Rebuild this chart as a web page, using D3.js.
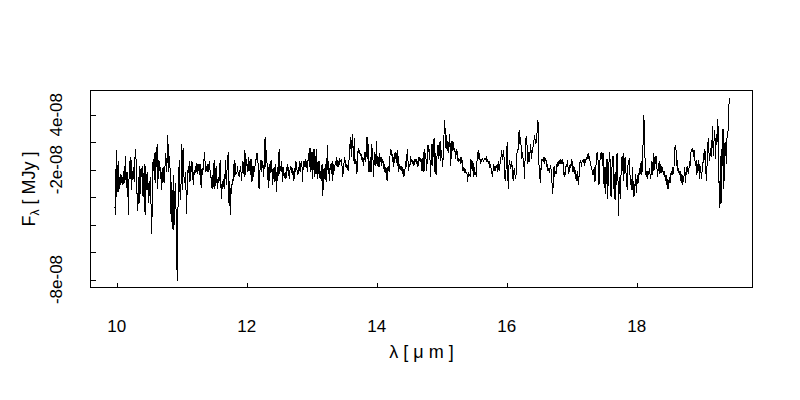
<!DOCTYPE html>
<html><head><meta charset="utf-8">
<script src="https://cdn.jsdelivr.net/npm/d3@7"></script>
<style>
body{margin:0;background:#fff}
svg{display:block}
text{font-family:"Liberation Sans",Arial,Helvetica,sans-serif;fill:#000}
</style>
</head><body>
<svg id="chart" width="800" height="400"></svg>
<script>
// wavelength sampling (micron) of the spectrum: first and last sample
const lambdaStart = 9.97, lambdaEnd = 19.44;
// flux density in units of 1e-8 MJy, in wavelength order, split in segments
const flux1 = [-2.7,-3.3,1.4,-2.0,-0.2,0.6,-1.6,-0.5,-1.1,-0.3,-1.0,
-0.5,-1.1,-0.8,0.3,-1.0,1.0,
-0.9,-1.3,-0.2,-3.3,-0.8,0.6,-0.7,0.9,-1.5,-0.1,-0.7,0.2,-0.9,0.9,1.5,0.2,-1.8,
-3.0,
-0.5,-2.5,0.3,-1.8,0.1,-0.5,0.3,-2.0,-0.8,0.4,-3.3,0.3,-1.0,-1.5,-0.2,-2.4,-0.8,-1.9,-0.5,-2.7,-4.7,-1.5,0.8,-0.1,1.2,-1.0,1.3,0.2,1.9,-1.4,0.7,-0.1,0.6,-0.7,-0.2,-1.5,0.1,-0.9,0.2,-1.0,0.6,1.2,-0.2,0.7,2.5,-0.2,1.0,0.7,-1.6,-3.8,-0.9,-4.3,-0.4,-4.4,-2.7,-1.0,-2.2,-5.6,-8.1,-3.2,-0.7,0.7,-1.5,-2.2,-0.4,1.9,-1.5,1.6,-0.5,-1.0,-0.2,-1.3,-3.2,-1.0,-0.1,-0.2,0.6,-0.9,0.3,-0.2,0.6,-0.4,-1.1,-0.2,-0.4,0.3,-0.2,0.5,-0.3,0.4,0.2,-0.4,0.4,-1.0,-1.3,0.1,-0.4,0.4,0.8,1.3,-0.2,0.3,-0.1,0.4,-0.2,0.3,0.6,-0.1,-0.2,-1.3,-0.4,-1.4,-1.1];
const flux2 = [0.7,-1.4,-0.8,0.3,-0.7,-1.4,-0.5,-1.0,-0.4,0.7,-1.0,-2.1,-0.8,-1.4,-0.7,-1.4,-0.7,0.7,-1.1,-0.1,0.3,1.3,-2.4,-0.8,-3.3,-1.3,-1.8,-0.7,-1.1,0.4,-0.5,0.7,-0.4,-0.2,-0.3,0.3,-0.4,-0.3,-0.5,0.3,-0.1,-0.8,0.1,0.6,-0.1,-0.5,1.4,-0.4,0.8,0.3,-0.2,0.9,-0.1,0.6,-0.4,0.8,-0.9,-0.8,0.3,-0.5,0.1,0.3,0.6,0.9,1.2,0.6,0.3,-1.4,-0.4,0.4,0.7,-0.2,0.6,0.3,-0.5,0.7,2.4,0.2,1.4,0.4,-0.4,-1.3,0.4,-0.8,0.6,-0.2,0.7,-1.1,0.1,-0.5,-0.9,0.4,-0.4,-1.6,0.2,-0.8,0.4,1.5,-0.3,0.3,-0.2,0.6,-0.9,0.2,-0.4,-0.5,-0.2,-0.7,-0.4,0.4,-0.1,0.2,-0.7,-0.1,0.3,-0.2,0.2,-0.4,-0.1,-0.8,0.1,-0.2,0.6,0.2,-0.1,-0.4,0.2,-0.1,0.6,-0.2,0.6,0.3,-0.9,0.6,0.2,0.4,0.8,0.2,0.6,-0.2,0.7,1.2,0.2,1.6,-0.2,0.2,1.3,-0.7,0.7,1.5,-0.5,1.0,-0.3,1.5,-0.7,0.6,-0.3];
const flux3 = [0.6,-0.7,-0.1,-0.8,0.4,-1.9,-0.9,0.1,-0.7,0.4,-0.9,0.2,1.8,-0.3,0.6,-0.8,0.1,0.4,-0.3,0.6,-0.8,0.4,-0.1,0.2,0.6,0.3,0.9,0.2,0.6,0.2,0.8,0.7,0.6,0.7,0.1,-0.5,0.2,0.6,0.9,0.2,0.4,0.1,0.3,-0.1,0.4,1.9,1.5,2.4,0.9,2.6,1.8,0.6,2.3,0.4,0.7,0.6,-0.3,0.9,1.6,1.2,1.4,1.0,1.2,0.8,0.6,0.9,0.3,1.0,1.3,0.6,1.2,2.4,0.8,1.9,-0.2,0.3,0.9,-0.2,1.9,1.2,0.7,-0.5,1.3,0.8,0.3,2.1,0.3,1.0,0.8,0.2,1.2,0.6,0.9,0.3,0.8,0.6,0.2,0.3,-0.2,0.2,-0.1,-0.8,0.1,0.3,-0.2,0.8,1.5,1.0,1.4,0.6,0.9,0.2,1.2,0.8,1.3,1.0,0.3,1.4,-0.2,0.4,0.1,0.2,-0.1,0.3,-0.2,-0.1,-0.5,-0.3,0.2,0.6,0.2,1.5,0.8,-0.1,0.4,0.2,1.0,0.6,0.8,0.4,0.6,0.3,0.7,0.6,0.8,0.4,0.6,0.2,0.8,0.7,0.9,0.6,0.8,-0.1,0.3,1.3,-0.2];
const flux4 = [1.5,1.0,0.8,-0.1,0.9,1.8,1.3,1.5,0.7,-0.5,1.2,1.9,0.3,1.6,2.3,-0.2,1.2,-0.4,0.8,1.3,1.8,0.8,1.2,2.1,0.6,1.4,0.8,0.2,1.6,2.7,3.6,2.1,1.5,2.5,1.4,2.0,1.2,2.6,1.8,0.3,1.9,2.1,1.4,2.0,1.3,1.6,0.8,1.2,1.5,0.9,0.6,0.8,0.7,0.8,0.4,0.9,0.6,-0.1,0.2,-0.2,0.1,-0.1,-0.3,-0.2,-0.9,-0.2,-0.5,-0.3,-0.5,0.8,0.3,-0.1,0.6,-0.5,0.2,-0.3,-0.2,-0.5,0.6,1.2,1.4,0.8,1.2,0.4,0.8,0.6,0.8,0.7,0.6,0.8,0.7,0.8,0.9,0.6,0.7,0.4,0.6,0.2,0.3,0.1,-0.2,-0.5,-0.1,0.3,0.2,-0.1,0.3,0.1,0.4,-0.2,0.6,-0.1,0.3,0.6,1.0,1.4,0.7,1.2,1.4,0.1,-0.8,-0.2,0.4,2.0,-0.5,-1.4,0.7,0.6,0.1,0.2,0.6,-0.4,-0.8,-0.1,0.1,-0.5,-0.7,0.4,1.5,1.2,2.3,2.9,1.9,2.4,1.6,0.8,1.3,0.7,0.4,-0.7,1.2,2.3,2.4,1.5,0.4,1.3,0.6];
const flux5 = [1.2,1.9,0.8,1.4,1.2,1.9,2.1,2.5,2.1,1.9,2.4,2.9,3.6,1.6,-0.7,0.2,-1.0,0.8,0.6,0.8,0.6,0.9,0.4,0.8,0.7,0.2,0.4,-0.1,0.1,-0.2,0.1,0.3,-0.3,-1.0,-1.8,-0.8,0.3,-0.5,-0.1,-0.3,0.4,0.2,0.6,0.3,0.7,0.4,0.8,0.6,0.4,0.8,0.1,-0.5,-0.2,-0.4,0.4,0.2,0.7,0.1,-0.3,0.2,0.4,0.1,0.7,0.6,-0.2,0.3,-0.3,0.2,-0.7,-0.3,-0.8,-0.1,-1.1,-0.7,0.2,0.7,0.6,0.2,0.7,0.6,0.8,0.3,0.7,0.6,0.9,0.7,1.0,1.2,0.8,1.0,0.4,0.3,0.2,-0.2,-0.4,-0.1,0.2,-0.9,-0.2,0.7,1.2,1.3,0.3,-1.1,0.1,1.2,0.8,1.3,0.3,1.2,-0.8,-1.3,0.2,-1.8,-0.3,0.8,-2.1,-0.1,0.6,1.3,0.2,-2.0,-0.2,0.7,1.0,-0.9,-2.1,-0.2,-2.2,0.4,1.2,0.8,-3.4,-1.5,-0.5,-2.1,-0.1,0.9,-0.1,1.2,-0.8,0.6,0.9,-0.2,-0.4,-1.5,0.2,0.6,0.7,-0.1,-1.1,-0.7,-1.5,0.2,-2.0,-0.8,-1.9];
const flux6 = [-0.9,-0.3,-1.7,-0.8,-0.4,-1.0,0.1,-0.4,0.2,0.6,-0.4,0.7,2.4,4.0,1.9,0.3,-0.3,-0.2,-0.7,-0.1,-0.4,0.1,-0.3,-0.7,-0.2,0.6,-0.4,1.2,-0.1,0.9,0.4,1.0,0.7,-0.5,-0.1,0.3,0.6,-0.3,0.4,0.1,-0.2,0.2,-0.4,-0.1,-0.3,-0.8,-0.4,-1.1,-0.7,-1.4,-0.9,-0.5,-1.0,-0.4,-0.1,-0.4,0.2,-0.3,0.3,1.5,1.8,1.4,0.3,0.7,-0.2,0.1,-0.4,-0.1,-0.8,-0.3,-1.1,-0.4,-0.9,-0.4,0.2,-1.0,-0.2,0.1,0.3,-0.3,-0.1,0.6,0.3,1.2,1.5,1.3,1.6,0.9,1.4,0.7,0.3,0.7,-0.4,0.4,-0.1,0.7,-0.7,0.3,-0.1,-0.7,0.1,0.4,1.2,0.7,1.5,0.6,-0.8,0.1,1.5,2.3,1.3,0.6,1.6,1.0,0.9,3.2,1.6,1.0,2.9,2.4,0.8,2.6,1.9,3.7,2.7,-1.0,-2.8,1.0,-2.5,1.5,0.3,3.0,-1.4,-0.2,2.0,1.5,0.4,2.4,2.7,3.0,4.9,5.2,5.2];
const flux = [].concat(flux1, flux2, flux3, flux4, flux5, flux6);

const xTicks = [10, 12, 14, 16, 18];
const xTickLabels = ["10", "12", "14", "16", "18"];
const yTicks = [4, 2, 0, -2, -4, -6, -8];
const yTickLabels = ["4e-08", "", "-2e-08", "", "", "", "-8e-08"];
const xDomain = [9.595, 19.78];
const yDomain = [-8.58, 5.77];

const n = flux.length;
const data = flux.map((v, i) => ({lambda: lambdaStart + (lambdaEnd - lambdaStart) * i / (n - 1), f: v}));

const L = 90.5, R = 752.5, T = 90.5, B = 287.5;
const x = d3.scaleLinear().domain(xDomain).range([L, R]);
const y = d3.scaleLinear().domain(yDomain).range([B, T]);
const svg = d3.select("#chart");

// spectrum
svg.append("path").datum(data)
  .attr("fill", "none").attr("stroke", "#000").attr("stroke-width", 1)
  .attr("shape-rendering", "crispEdges")
  .attr("d", d3.line().x(d => x(d.lambda)).y(d => y(d.f)));

// frame
svg.append("rect").attr("x", L).attr("y", T).attr("width", R - L).attr("height", B - T)
  .attr("fill", "none").attr("stroke", "#000").attr("shape-rendering", "crispEdges");

// x axis ticks (inward)
const gx = svg.append("g").attr("transform", `translate(0,${B})`)
  .call(d3.axisBottom(x).tickValues(xTicks).tickSize(-5).tickFormat(""));
gx.select(".domain").remove();
gx.selectAll("line").attr("shape-rendering", "crispEdges");
svg.append("g").selectAll("text").data(xTicks).join("text")
  .attr("x", d => x(d)).attr("y", 332).attr("text-anchor", "middle")
  .style("font-size", "17px").text((d, i) => xTickLabels[i]);

// y axis ticks (inward)
const gy = svg.append("g").attr("transform", `translate(${L},0)`)
  .call(d3.axisLeft(y).tickValues(yTicks).tickSize(-5).tickFormat(""));
gy.select(".domain").remove();
gy.selectAll("line").attr("shape-rendering", "crispEdges");
svg.append("g").selectAll("text").data(yTicks).join("text")
  .attr("transform", d => `translate(62,${y(d)}) rotate(-90)`)
  .attr("text-anchor", "middle").style("font-size", "17px")
  .text((d, i) => yTickLabels[i]);

// axis titles
const xt = svg.append("text").attr("x", (L + R) / 2).attr("y", 358)
  .attr("text-anchor", "middle").style("font-size", "18px");
xt.append("tspan").text("λ [ μ m ]");

const yt = svg.append("text").attr("transform", `translate(35,${(T + B) / 2}) rotate(-90)`)
  .attr("text-anchor", "middle").style("font-size", "18px");
yt.append("tspan").text("F");
yt.append("tspan").attr("dy", 4).style("font-size", "12px").text("λ");
yt.append("tspan").attr("dy", -4).text(" [ MJy ]");
</script>
</body></html>
